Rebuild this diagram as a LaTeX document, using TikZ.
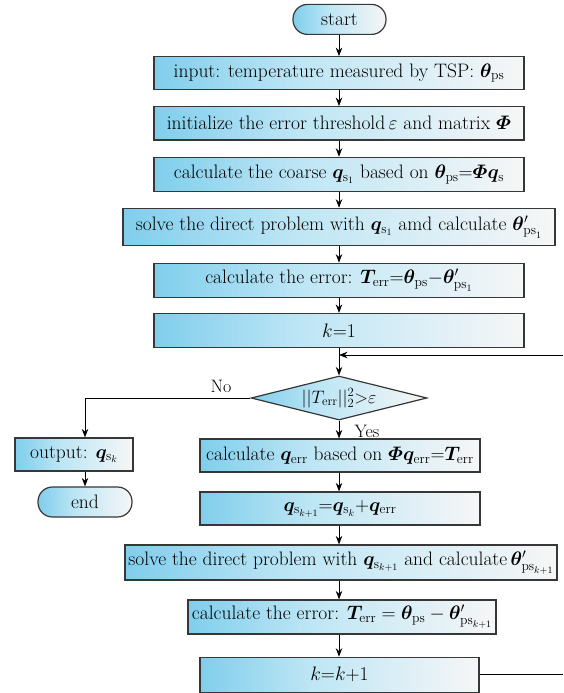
\RequirePackage{fix-cm}
\documentclass[tikz,border=0pt]{standalone}
\usepackage{amsmath}
\usepackage{bm}
\usetikzlibrary{arrows.meta,shapes.geometric}
\definecolor{boxL}{RGB}{128,206,236}
\definecolor{boxM}{RGB}{190,230,245}
\definecolor{boxR}{RGB}{246,246,246}
\definecolor{edgec}{RGB}{55,55,55}
\pgfdeclarehorizontalshading{boxshade}{100bp}{color(0bp)=(boxL); color(25bp)=(boxL); color(45bp)=(boxM); color(75bp)=(boxR); color(100bp)=(boxR)}
\newcommand\boxfont{\fontsize{19.5}{23}\selectfont}
\newcommand\lblfont{\fontsize{18}{21}\selectfont}
\tikzset{
  proc/.style={rectangle, draw=edgec, line width=1.2pt, shading=boxshade, inner sep=0pt, font=\boxfont},
  term/.style={proc, rounded corners=14.5pt},
  dec/.style={diamond, aspect=4, draw=edgec, line width=1.2pt, shading=boxshade, inner sep=0pt, font=\lblfont},
  arr/.style={-{Stealth[length=8.5pt,width=6.5pt]}, line width=0.85pt},
  lbl/.style={font=\lblfont, inner sep=0pt}
}
\begin{document}
\begin{tikzpicture}[x=1pt,y=-1pt]
\useasboundingbox (0,0) rectangle (563,693);
\coordinate (ax) at (339,0);
\node[term, minimum width=93pt, minimum height=30pt] (start) at (339.5,19.4) {start};
\node[proc, minimum width=370pt, minimum height=32.6pt] (input) at (339,73) {input: temperature measured by TSP: $\bm{\theta}_{\mathrm{ps}}$};
\node[proc, minimum width=370pt, minimum height=33.3pt] (init) at (339,123.3) {initialize the error threshold\,$\varepsilon$ and matrix $\bm{\varPhi}$};
\node[proc, minimum width=370pt, minimum height=34.4pt] (coarse) at (339,174.5) {calculate the coarse $\bm{q}_{\mathrm{s}_1}$ based on $\bm{\theta}_{\mathrm{ps}}{=}\bm{\varPhi}\bm{q}_{\mathrm{s}}$};
\node[proc, minimum width=432pt, minimum height=37pt] (solve1) at (339,226.8) {solve the direct problem with $\bm{q}_{\mathrm{s}_1}$ amd calculate $\bm{\theta}'_{\mathrm{ps}_1}$};
\node[proc, minimum width=370pt, minimum height=34.5pt] (err1) at (339,280.5) {calculate the error: $\bm{T}_{\mathrm{err}}{=}\bm{\theta}_{\mathrm{ps}}{-}\bm{\theta}'_{\mathrm{ps}_1}$};
\node[proc, minimum width=370pt, minimum height=34pt] (k1) at (339,330.5) {$k$=1};
\coordinate (join) at (339,355);
\coordinate (loopin) at (563,355);
\node[dec, minimum width=176pt, minimum height=44pt] (cond) at (339,398) {$||T_{\mathrm{err}}||_2^2{>}\varepsilon$};
\node[lbl] (no) at (221,386) {No};
\node[lbl] (yes) at (367,431) {Yes};
\node[proc, minimum width=118pt, minimum height=33pt] (out) at (74,454.5) {output: $\bm{q}_{\mathrm{s}_k}$};
\node[term, minimum width=94pt, minimum height=30pt] (end) at (85,502) {end};
\node[proc, minimum width=280pt, minimum height=33pt] (qerr) at (340,455.5) {calculate $\bm{q}_{\mathrm{err}}$ based on $\bm{\varPhi}\bm{q}_{\mathrm{err}}{=}\bm{T}_{\mathrm{err}}$};
\node[proc, minimum width=280pt, minimum height=33pt] (qs) at (340,508.5) {$\bm{q}_{\mathrm{s}_{k+1}}{=}\bm{q}_{\mathrm{s}_k}{+}\bm{q}_{\mathrm{err}}$};
\node[proc, minimum width=432pt, minimum height=35pt] (solve2) at (341,562.5) {solve the direct problem with $\bm{q}_{\mathrm{s}_{k+1}}$ and calculate\,$\bm{\theta}'_{\mathrm{ps}_{k+1}}$};
\node[proc, minimum width=308pt, minimum height=34pt] (err2) at (342,617) {calculate the error: $\bm{T}_{\mathrm{err}}=\bm{\theta}_{\mathrm{ps}}-\bm{\theta}'_{\mathrm{ps}_{k+1}}$};
\node[proc, minimum width=279pt, minimum height=35pt] (kk) at (339.5,674.8) {$k$=$k$+1};
\coordinate (loopout) at (563,674.8);
\foreach \a/\b in {start/input, input/init, init/coarse, coarse/solve1, solve1/err1, err1/k1, qerr/qs, qs/solve2, solve2/err2, err2/kk}
  \draw[arr] (ax |- \a.south) -- (ax |- \b.north);
\draw[arr] (ax |- k1.south) -- (cond.north);
\draw[arr] (loopin) -- (join);
\draw[arr] (cond.south) -- (ax |- qerr.north);
\draw[arr] (cond.west) -| (end.north |- out.north);
\draw[arr] (end.north |- out.south) -- (end.north);
\draw[line width=0.85pt] (kk.east) -- (loopout);
\end{tikzpicture}
\end{document}
